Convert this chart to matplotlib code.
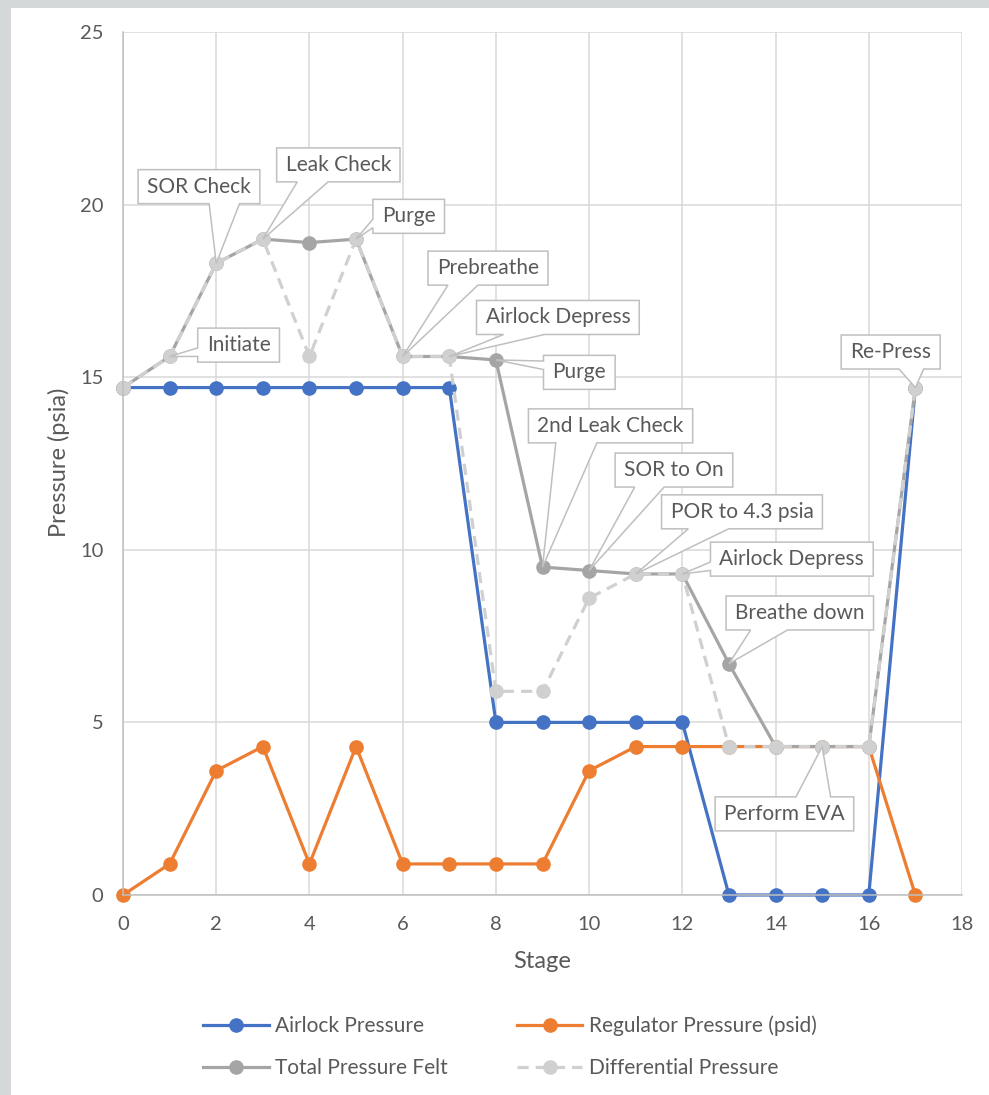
import matplotlib
matplotlib.use("Agg")
import matplotlib.pyplot as plt
from matplotlib.patches import Polygon, Rectangle

# ---- data -------------------------------------------------------------
stages = [0, 1, 2, 3, 4, 5, 6, 7, 8, 9, 10, 11, 12, 13, 14, 15, 16, 17]
airlock_pressure = [14.7, 14.7, 14.7, 14.7, 14.7, 14.7, 14.7, 14.7, 5, 5, 5, 5, 5, 0, 0, 0, 0, 14.7]
regulator_pressure = [0, 0.9, 3.6, 4.3, 0.9, 4.3, 0.9, 0.9, 0.9, 0.9, 3.6, 4.3, 4.3, 4.3, 4.3, 4.3, 4.3, 0]
total_pressure_felt = [14.7, 15.6, 18.3, 19.0, 18.9, 19.0, 15.6, 15.6, 15.5, 9.5, 9.4, 9.3, 9.3, 6.7, 4.3, 4.3, 4.3, 14.7]
differential_pressure = [14.7, 15.6, 18.3, 19.0, 15.6, 19.0, 15.6, 15.6, 5.9, 5.9, 8.6, 9.3, 9.3, 4.3, 4.3, 4.3, 4.3, 14.7]

# callout labels on the "Total Pressure Felt" series
step_labels = ["Initiate", "SOR Check", "Leak Check", "Purge", "Prebreathe", "Airlock Depress",
               "Purge", "2nd Leak Check", "SOR to On", "POR to 4.3 psia", "Airlock Depress",
               "Breathe down", "Perform EVA", "Re-Press"]
step_label_stages = [1, 2, 3, 5, 6, 7, 8, 9, 10, 11, 12, 13, 15, 17]
# where each callout box sits (data coordinates of the box centre)
callout_centers = [(2.48, 15.93), (1.63, 20.52), (4.62, 21.15), (6.13, 19.66), (7.83, 18.16),
                   (9.33, 16.73), (9.79, 15.14), (10.46, 13.59), (11.82, 12.31), (13.28, 11.10),
                   (14.35, 9.73), (14.52, 8.17), (14.19, 2.35), (16.47, 15.73)]

# ---- style ------------------------------------------------------------
FONT = "Lato"
TEXT_C = "#595959"
GRID_C = "#d9d9d9"
AXIS_C = "#bfbfbf"
C_AIR = "#4472C4"
C_REG = "#ED7D31"
C_TOT = "#A5A5A5"
C_DIF = "#D0D0D0"
LW = 2.3
MS = 9.5

plt.rcParams["font.family"] = [FONT, "DejaVu Sans"]

W, H = 989, 1095
fig = plt.figure(figsize=(W / 100, H / 100), dpi=100)
fig.patch.set_facecolor("white")
# backdrop strips along the top and left edges
fig.patches.append(Rectangle((0, 0), 11 / W, 1, transform=fig.transFigure,
                             facecolor="#d5d8d8", edgecolor="none", zorder=0))
fig.patches.append(Rectangle((0, 1 - 8 / H), 1, 8 / H, transform=fig.transFigure,
                             facecolor="#d5d8d8", edgecolor="none", zorder=0))

ax = fig.add_axes([123 / W, (H - 895) / H, (962 - 123) / W, (895 - 32) / H])
ax.set_xlim(0, 18)
ax.set_ylim(0, 25)
ax.set_xticks(range(0, 19, 2))
ax.set_yticks(range(0, 26, 5))
ax.grid(True, color=GRID_C, linewidth=1.1, zorder=0)
ax.set_axisbelow(True)
for side in ("top", "right"):
    ax.spines[side].set_visible(False)
for side in ("left", "bottom"):
    ax.spines[side].set_color(AXIS_C)
    ax.spines[side].set_linewidth(1.1)
ax.tick_params(length=0, labelsize=14.5, labelcolor=TEXT_C)
ax.tick_params(axis="y", pad=14)
ax.tick_params(axis="x", pad=15)

l_air, = ax.plot(stages, airlock_pressure, color=C_AIR, lw=LW, marker="o", ms=MS,
                 label="Airlock Pressure", zorder=2, clip_on=False)
l_reg, = ax.plot(stages, regulator_pressure, color=C_REG, lw=LW, marker="o", ms=MS,
                 label="Regulator Pressure (psid)", zorder=2.1, clip_on=False)
l_tot, = ax.plot(stages, total_pressure_felt, color=C_TOT, lw=LW, marker="o", ms=MS,
                 label="Total Pressure Felt", zorder=2.2, clip_on=False)
l_dif, = ax.plot(stages, differential_pressure, color=C_DIF, lw=LW, marker="o", ms=MS,
                 ls=(0, (3.5, 2.2)), label="Differential Pressure", zorder=2.3, clip_on=False)

fig.text(59 / W, 1 - 462 / H, "Pressure (psia)", rotation=90, ha="center", va="center",
         fontsize=17, color=TEXT_C)
fig.text(542 / W, 1 - 961 / H, "Stage", ha="center", va="center", fontsize=17, color=TEXT_C)

fig.legend(handles=[l_air, l_tot, l_reg, l_dif], ncol=2, loc="center",
           bbox_to_anchor=(510 / W, 1 - 1047 / H), frameon=False, fontsize=15,
           labelcolor=TEXT_C, handlelength=3.15, handletextpad=0.3,
           columnspacing=3.3, labelspacing=1.04)

# ---- callouts ---------------------------------------------------------
texts = []
for label, (cx, cy) in zip(step_labels, callout_centers):
    t = ax.text(cx, cy, label, ha="center", va="center", fontsize=15, color=TEXT_C,
                zorder=7, clip_on=False)
    texts.append(t)

fig.canvas.draw()
renderer = fig.canvas.get_renderer()
to_data = ax.transData.inverted()
PADX = 9
BOX_H = 34

for t, stage in zip(texts, step_label_stages):
    bb = t.get_window_extent(renderer)
    cx, cy = (bb.x0 + bb.x1) / 2, (bb.y0 + bb.y1) / 2
    w = bb.width + 2 * PADX
    h = BOX_H
    x0, x1 = cx - w / 2, cx + w / 2
    y0, y1 = cy - h / 2, cy + h / 2
    tx, ty = ax.transData.transform((stage, total_pressure_felt[stage]))
    dx, dy = tx - cx, ty - cy
    BL, BR, TR, TL = (x0, y0), (x1, y0), (x1, y1), (x0, y1)
    tip = (tx, ty)
    if abs(dx) * h > abs(dy) * w:
        # wedge on a side edge
        if dy < 0:
            c1, c2 = y0 + h * 2 / 12, y0 + h * 5 / 12
        else:
            c1, c2 = y0 + h * 7 / 12, y0 + h * 10 / 12
        if dx > 0:
            pts = [BL, BR, (x1, c1), tip, (x1, c2), TR, TL]
        else:
            pts = [BL, BR, TR, TL, (x0, c2), tip, (x0, c1)]
    else:
        # wedge on the top or bottom edge
        if dx > 0:
            b1, b2 = x0 + w * 7 / 12, x0 + w * 10 / 12
        else:
            b1, b2 = x0 + w * 2 / 12, x0 + w * 5 / 12
        if dy < 0:
            pts = [BL, (b1, y0), tip, (b2, y0), BR, TR, TL]
        else:
            pts = [BL, BR, TR, (b2, y1), tip, (b1, y1), TL]
    pts_data = to_data.transform(pts)
    ax.add_patch(Polygon(pts_data, closed=True, facecolor="white", edgecolor=AXIS_C,
                         linewidth=1.1, zorder=6, clip_on=False))

fig.savefig("out.png", dpi=100)
